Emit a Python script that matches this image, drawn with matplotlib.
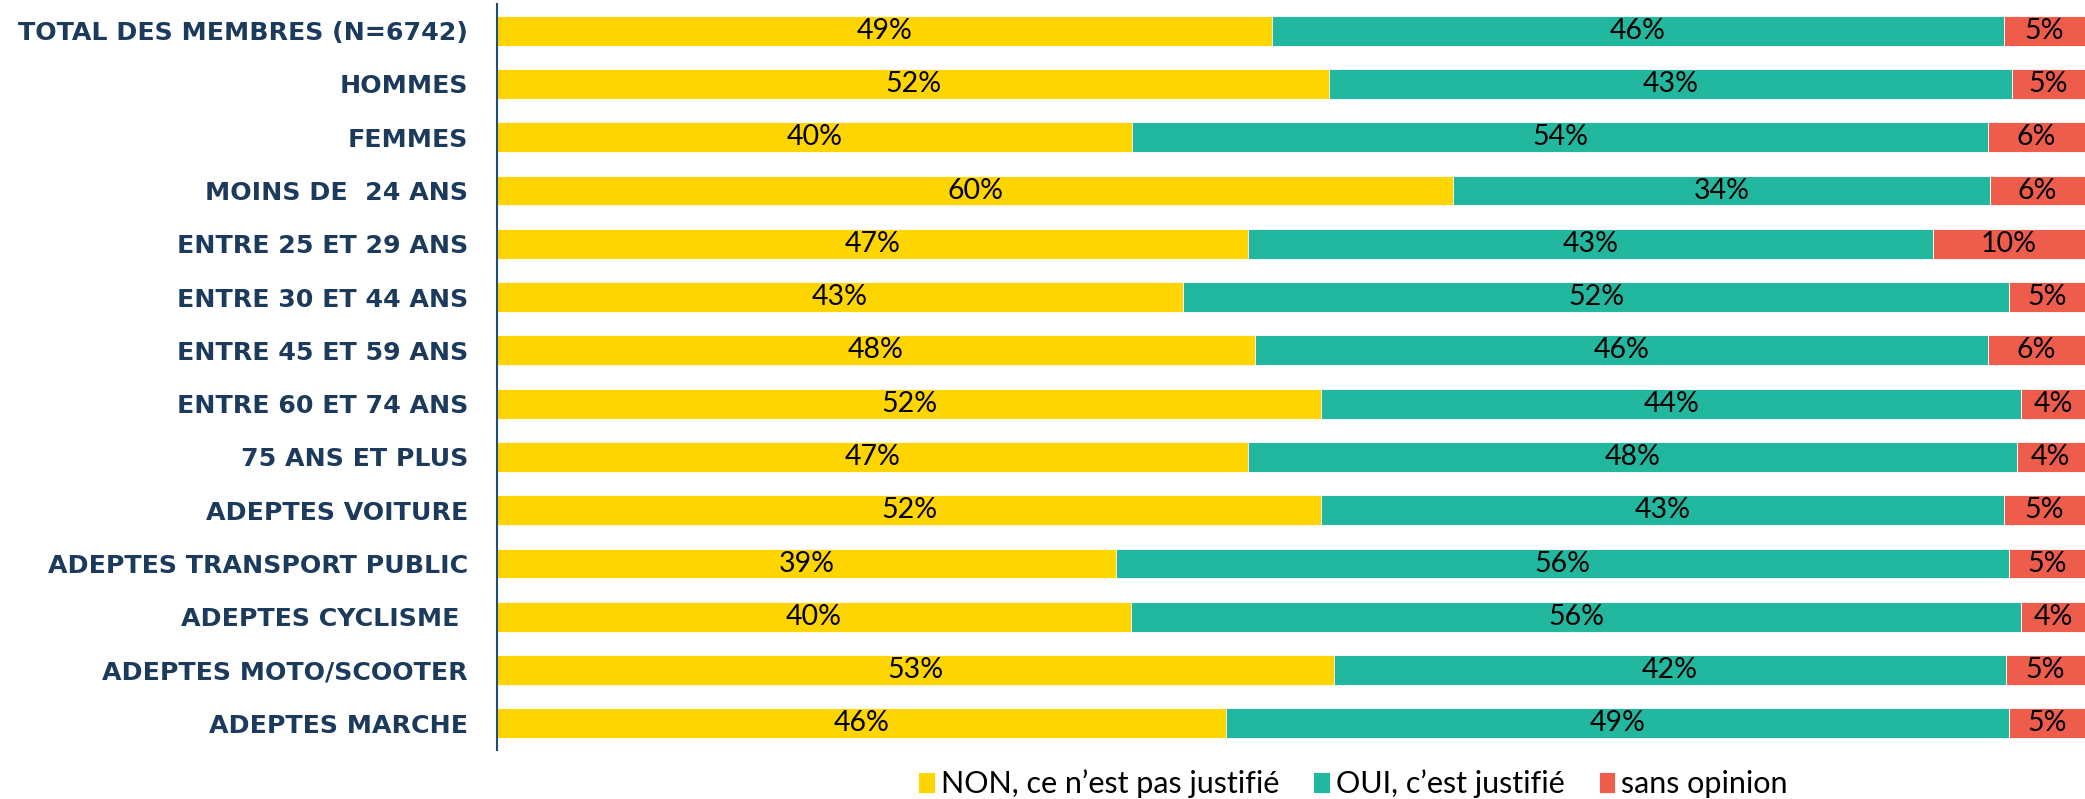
import matplotlib
matplotlib.use("Agg")
import matplotlib.pyplot as plt
import numpy as np

categories = [
    "TOTAL DES MEMBRES (N=6742)", "HOMMES", "FEMMES", "MOINS DE  24 ANS",
    "ENTRE 25 ET 29 ANS", "ENTRE 30 ET 44 ANS", "ENTRE 45 ET 59 ANS",
    "ENTRE 60 ET 74 ANS", "75 ANS ET PLUS", "ADEPTES VOITURE",
    "ADEPTES TRANSPORT PUBLIC", "ADEPTES CYCLISME ", "ADEPTES MOTO/SCOOTER",
    "ADEPTES MARCHE",
]
non_vals = [48.8, 52.4, 40.0, 60.2, 47.3, 43.2, 47.7, 51.9, 47.3, 51.9, 39.0, 39.9, 52.7, 45.9]
oui_vals = [46.1, 43.0, 53.9, 33.8, 43.1, 52.0, 46.2, 44.1, 48.4, 43.0, 56.2, 56.1, 42.3, 49.3]
sans_vals = [5.1, 4.6, 6.1, 6.0, 9.6, 4.8, 6.1, 4.0, 4.3, 5.1, 4.8, 4.0, 5.0, 4.8]
series_names = ["NON, ce n\u2019est pas justifi\u00e9", "OUI, c\u2019est justifi\u00e9", "sans opinion"]
colors = ["#FFD500", "#22B8A0", "#EE5C4B"]

fig = plt.figure(figsize=(20.85, 7.99), dpi=100)
ax = fig.add_axes([0.2384, 0.0613, 0.7616, 0.9337])

y = np.arange(len(categories))
left = np.zeros(len(categories))
bars = []
for vals, name, col in zip([non_vals, oui_vals, sans_vals], series_names, colors):
    vals = np.array(vals)
    b = ax.barh(y, vals, left=left, height=0.56, color=col, label=name,
                edgecolor="white", linewidth=0.6)
    bars.append(b)
    for yi, l, v in zip(y, left, vals):
        ax.text(l + v / 2, yi, f"{round(v)}%", ha="center", va="center",
                fontsize=20.5, family="Lato", color="black")
    left = left + vals

ax.set_xlim(0, 100)
ax.set_ylim(len(categories) - 0.5, -0.5)
ax.set_yticks(y)
ax.set_yticklabels(categories, family="DejaVu Sans", fontweight="bold",
                   fontsize=18.2, color="#1B3A5C")
ax.tick_params(axis="y", length=0, pad=21)
ax.set_xticks([])
for s in ["top", "right", "bottom"]:
    ax.spines[s].set_visible(False)
ax.spines["left"].set_color("#1F4E79")
ax.spines["left"].set_linewidth(1.5)

fig.legend(handles=bars, loc="center", bbox_to_anchor=(0.649, 0.019), ncol=3,
           frameon=False, handlelength=0.55, handleheight=0.7, handletextpad=0.2,
           columnspacing=1.1, prop={"family": "Lato", "size": 22})

fig.savefig("out.png", dpi=100)
